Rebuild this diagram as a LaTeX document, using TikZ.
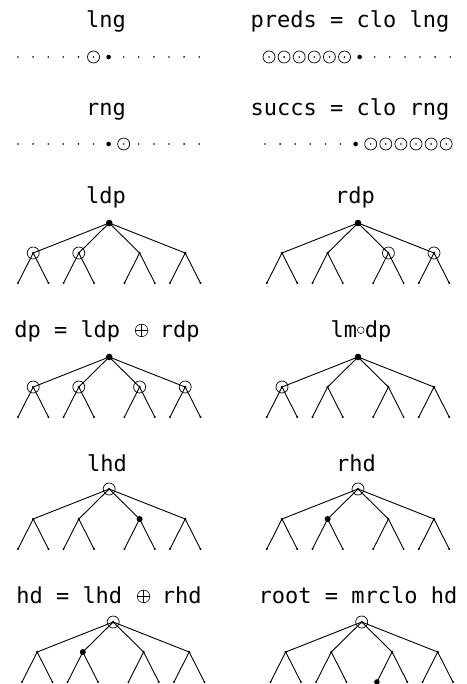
\documentclass[tikz,border=0pt]{standalone}
\usepackage{fontspec}
\usetikzlibrary{calc}
\newfontfamily\lblfont{DejaVu Sans Mono}
\tikzset{
  lbl/.style={font=\lblfont\fontsize{22}{26}\selectfont, anchor=base, inner sep=0pt},
  edge/.style={line width=0.9pt, line cap=round},
  ring/.style={line width=0.7pt},
  sym/.style={line width=0.55pt},
}
\newcommand\cellbox{\makebox[0.602em]{}}
\newcommand\narrowbox{\makebox[8pt]{}}
% drawn circled plus: #1 centre
\newcommand\myoplus[1]{%
  \draw[sym] (#1) circle (6.3pt);
  \draw[sym] ($(#1)+(-6.3,0)$) -- ($(#1)+(6.3,0)$);
  \draw[sym] ($(#1)+(0,-6.3)$) -- ($(#1)+(0,6.3)$);
}
% dot row: #1 prefix, #2 x0, #3 y
\newcommand\myrow[3]{%
  \foreach \i in {0,...,12} {\coordinate (#1\i) at ({#2+\i*15.1},#3);}
}
% tree: #1 prefix, #2 x0, #3 y of root
\newcommand\mytree[3]{%
  \coordinate (#1r) at ({#2+6*15.2},#3);
  \foreach \n/\i in {1/1,2/4,3/8,4/11} {\coordinate (#1m\n) at ({#2+\i*15.2},{#3+30});}
  \foreach \n/\i in {1/0,2/2,3/3,4/5,5/7,6/9,7/10,8/12} {\coordinate (#1l\n) at ({#2+\i*15.2},{#3+60});}
  \foreach \n in {1,...,4} {\draw[edge] (#1r) -- (#1m\n);}
  \foreach \n/\a/\b in {1/1/2,2/3/4,3/5/6,4/7/8} {\draw[edge] (#1m\n) -- (#1l\a); \draw[edge] (#1m\n) -- (#1l\b);}
  \foreach \n in {1,...,4} {\fill (#1m\n) circle (1.3pt);}
  \foreach \n in {1,...,8} {\fill (#1l\n) circle (1.1pt);}
  \fill (#1r) circle (1.3pt);
}
\begin{document}
\begin{tikzpicture}[x=1pt,y=-1pt]
\fill[white] (0,0) rectangle (466,684);
\useasboundingbox (0,0) rectangle (466,684);

% ---- row 1: lng / preds
\node[lbl] (tlng) at (106,28) {lng};
\node[lbl] (tpreds) at (350,28) {preds = clo lng};
\myrow{a}{18}{57}
\foreach \i in {0,1,2,3,4,7,8,9,10,11,12} {\fill (a\i) circle (0.9pt);}
\draw[ring] (a5) circle (6pt); \fill (a5) circle (0.9pt);
\fill (a6) circle (2.3pt);
\myrow{b}{269}{57}
\foreach \i in {0,...,5} {\draw[ring] (b\i) circle (6pt); \fill (b\i) circle (0.9pt);}
\fill (b6) circle (2.3pt);
\foreach \i in {7,...,12} {\fill (b\i) circle (0.9pt);}

% ---- row 2: rng / succs
\node[lbl] (trng) at (106,116) {rng};
\node[lbl] (tsuccs) at (350,116) {succs = clo rng};
\myrow{c}{18}{144}
\foreach \i in {0,1,2,3,4,5,8,9,10,11,12} {\fill (c\i) circle (0.9pt);}
\fill (c6) circle (2.3pt);
\draw[ring] (c7) circle (6pt); \fill (c7) circle (0.9pt);
\myrow{d}{265}{144}
\foreach \i in {0,...,5} {\fill (d\i) circle (0.9pt);}
\fill (d6) circle (2.3pt);
\foreach \i in {7,...,12} {\draw[ring] (d\i) circle (6pt); \fill (d\i) circle (0.9pt);}

% ---- row 3: ldp / rdp
\node[lbl] (tldp) at (106,204) {ldp};
\node[lbl] (trdp) at (355,204) {rdp};
\mytree{A}{18}{223}
\fill (Ar) circle (3.3pt);
\draw[ring] (Am1) circle (6pt); \draw[ring] (Am2) circle (6pt);
\mytree{B}{266.8}{223}
\fill (Br) circle (3.3pt);
\draw[ring] (Bm3) circle (6pt); \draw[ring] (Bm4) circle (6pt);

% ---- row 4: dp / lm o dp
\node[lbl] (tdp) at (107,337) {dp = ldp \cellbox{} rdp};
\coordinate (opA) at ($(tdp.base west)+(127.5,-6.6)$);
\myoplus{opA}
\node[lbl] (tlmdp) at (361,337) {lm\narrowbox dp};
\coordinate (ciA) at ($(tlmdp.base west)+(30.5,-6.8)$);
\draw[sym] (ciA) circle (3.4pt);
\mytree{C}{18}{357}
\fill (Cr) circle (3.3pt);
\foreach \n in {1,...,4} {\draw[ring] (Cm\n) circle (6pt);}
\mytree{D}{266.8}{357}
\fill (Dr) circle (3.3pt);
\draw[ring] (Dm1) circle (6pt);

% ---- row 5: lhd / rhd
\node[lbl] (tlhd) at (107,471) {lhd};
\node[lbl] (trhd) at (356,471) {rhd};
\mytree{E}{18}{489}
\draw[ring] (Er) circle (6pt);
\fill (Em3) circle (3pt);
\mytree{F}{266.8}{489}
\draw[ring] (Fr) circle (6pt);
\fill (Fm2) circle (3pt);

% ---- row 6: hd / root
\node[lbl] (thd) at (109,603) {hd = lhd \cellbox{} rhd};
\coordinate (opB) at ($(thd.base west)+(127.5,-6.6)$);
\myoplus{opB}
\node[lbl] (troot) at (358,603) {root = mrclo hd};
\mytree{G}{22}{622}
\draw[ring] (Gr) circle (6pt);
\fill (Gm2) circle (3pt);
\mytree{H}{270.5}{622}
\draw[ring] (Hr) circle (6pt);
\fill (Hl5) circle (2.8pt);
\end{tikzpicture}
\end{document}
